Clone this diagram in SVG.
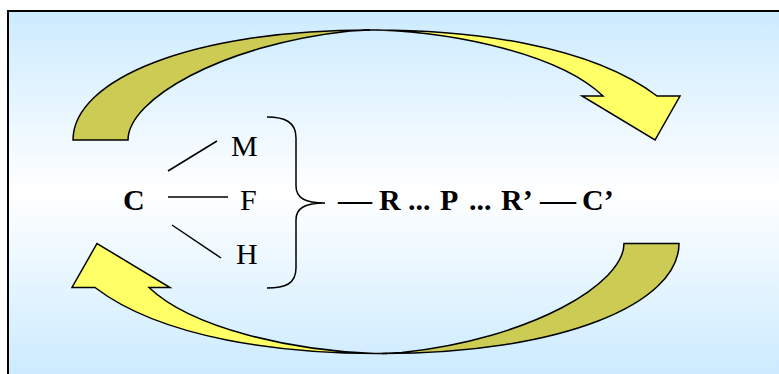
<svg xmlns="http://www.w3.org/2000/svg" width="779" height="374" viewBox="0 0 779 374">
<defs>
<linearGradient id="bg" x1="0" y1="11" x2="0" y2="374" gradientUnits="userSpaceOnUse">
<stop offset="0" stop-color="#CCEBFF"/>
<stop offset="0.5" stop-color="#FFFFFF"/>
<stop offset="1" stop-color="#CCEBFF"/>
</linearGradient>
<g id="arrow">
<path class="front" d="M365,30 C470,29 590,45 657,96 L680,96 L655,140 L582,96 L603,96 C560,55 460,33 378,30 Z"/>
<path class="back" d="M73,140 C73,80 190,30 370,30 L350,31 C220,45 128,100 128,140 Z"/>
</g>
</defs>
<style>
.front{fill:#FFFF66;stroke:#000;stroke-width:1.5;stroke-linejoin:miter}
.back{fill:#CCCC55;stroke:#000;stroke-width:1.5;stroke-linejoin:miter}
.ln{stroke:#000;stroke-width:1.5;fill:none}
.t{font-family:"Liberation Serif","Times New Roman",serif;font-size:30px;fill:#000}
.b{font-weight:bold}
</style>
<rect x="8" y="11" width="790" height="380" fill="url(#bg)" stroke="#000" stroke-width="2"/>
<g id="arrow-top"><use href="#arrow"/></g>
<g id="arrow-bottom"><use href="#arrow" transform="rotate(180 376 191.75)"/></g>
<g id="connectors">
<line class="ln" x1="168" y1="171" x2="217" y2="141"/>
<line class="ln" x1="168" y1="197" x2="228" y2="197"/>
<line class="ln" x1="172" y1="225" x2="221" y2="258"/>
<path class="ln" d="M267,117 C285,117 296,122 296,138 L296,186 C296,198 305,203 325,203 C305,203 296,208 296,220 L296,268 C296,284 285,288 267,288"/>
</g>
<g id="node-C"><text class="t b" x="123" y="210">C</text></g>
<g id="node-M"><text class="t" x="231" y="156">M</text></g>
<g id="node-F"><text class="t" x="240" y="210">F</text></g>
<g id="node-H"><text class="t" x="236" y="264">H</text></g>
<g id="node-chain"><text class="t b" y="210"><tspan x="338" textLength="34" lengthAdjust="spacingAndGlyphs">—</tspan><tspan x="379">R</tspan><tspan x="408">...</tspan><tspan x="440">P</tspan><tspan x="469">...</tspan><tspan x="501">R’</tspan><tspan x="540" textLength="36" lengthAdjust="spacingAndGlyphs">—</tspan><tspan x="582">C’</tspan></text></g>
</svg>
